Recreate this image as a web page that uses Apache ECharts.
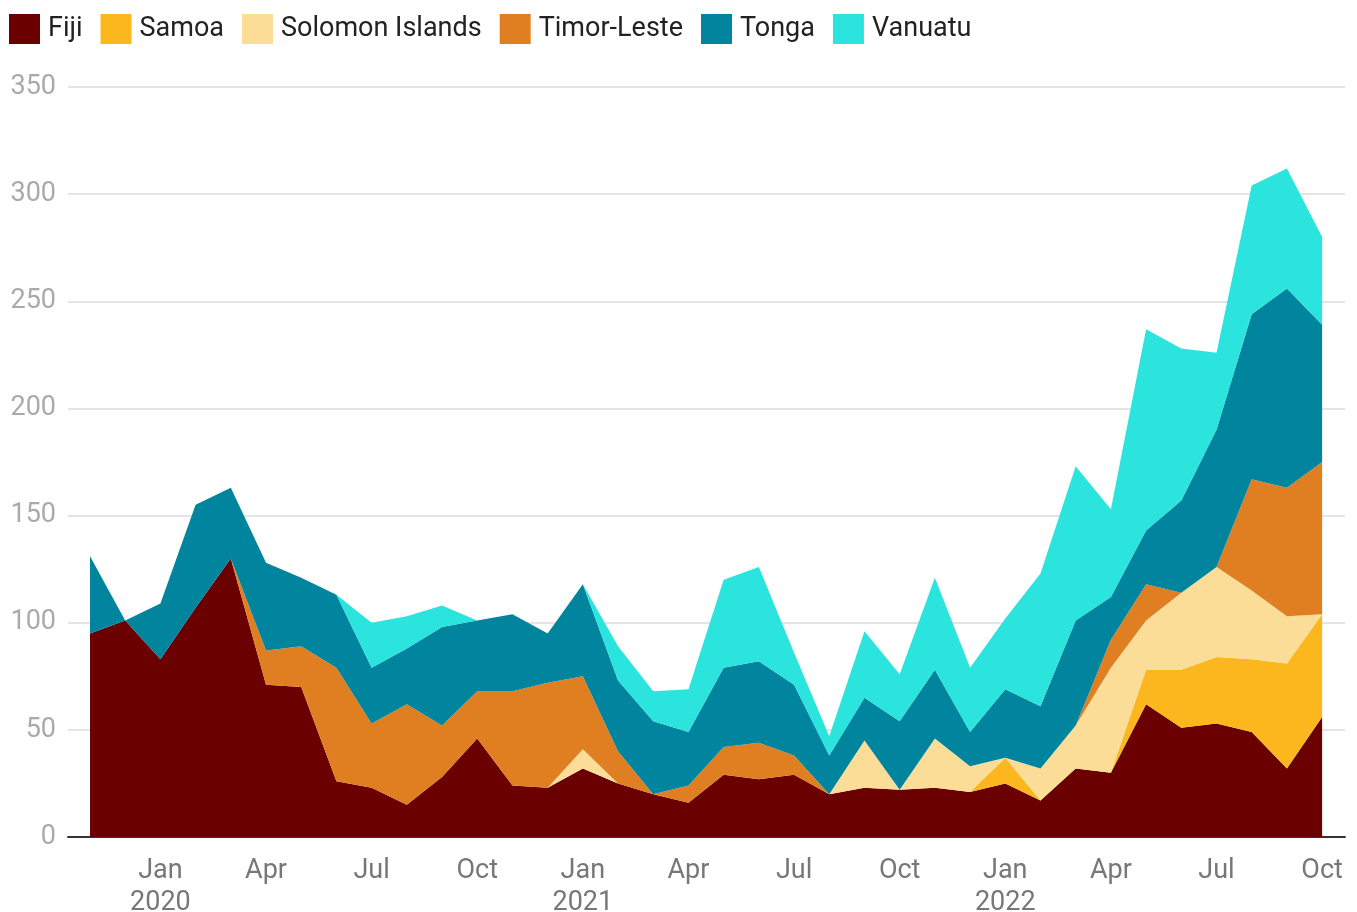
<!DOCTYPE html>
<html>
<head>
<meta charset="utf-8">
<script src="https://cdn.jsdelivr.net/npm/echarts@6/dist/echarts.min.js"></script>
<style>
  html, body { margin: 0; padding: 0; background: #fff; }
  #chart { width: 1357px; height: 912px; }
</style>
</head>
<body>
<div id="chart"></div>
<script>
// monthly, Nov 2019 - Oct 2022
const months = [
  "2019-11", "2019-12",
  "2020-01", "2020-02", "2020-03", "2020-04", "2020-05", "2020-06",
  "2020-07", "2020-08", "2020-09", "2020-10", "2020-11", "2020-12",
  "2021-01", "2021-02", "2021-03", "2021-04", "2021-05", "2021-06",
  "2021-07", "2021-08", "2021-09", "2021-10", "2021-11", "2021-12",
  "2022-01", "2022-02", "2022-03", "2022-04", "2022-05", "2022-06",
  "2022-07", "2022-08", "2022-09", "2022-10"
];
const fiji = [95, 101, 83, 107, 130, 71, 70, 26, 23, 15, 28, 46, 24, 23, 32, 25, 20, 16,
  29, 27, 29, 20, 23, 22, 23, 21, 25, 17, 32, 30, 62, 51, 53, 49, 32, 56];
const samoa = [0, 0, 0, 0, 0, 0, 0, 0, 0, 0, 0, 0, 0, 0, 0, 0, 0, 0,
  0, 0, 0, 0, 0, 0, 0, 0, 12, 0, 0, 0, 16, 27, 31, 34, 49, 48];
const solomon = [0, 0, 0, 0, 0, 0, 0, 0, 0, 0, 0, 0, 0, 0, 9, 0, 0, 0,
  0, 0, 0, 0, 22, 0, 23, 12, 0, 15, 20, 49, 23, 36, 42, 32, 22, 0];
const timorLeste = [0, 0, 0, 0, 0, 16, 19, 53, 30, 47, 24, 22, 44, 49, 34, 15, 0, 8,
  13, 17, 9, 0, 0, 0, 0, 0, 0, 0, 0, 13, 17, 0, 0, 52, 60, 71];
const tonga = [36, 0, 26, 48, 33, 41, 32, 34, 26, 26, 46, 33, 36, 23, 43, 33, 34, 25,
  37, 38, 33, 18, 20, 32, 32, 16, 32, 29, 49, 20, 25, 43, 64, 77, 93, 64];
const vanuatu = [0, 0, 0, 0, 0, 0, 0, 0, 21, 15, 10, 0, 0, 0, 0, 16, 14, 20,
  41, 44, 15, 9, 31, 22, 43, 30, 33, 62, 72, 41, 94, 71, 36, 60, 56, 41];

const monthNames = ["Jan", "Feb", "Mar", "Apr", "May", "Jun", "Jul", "Aug", "Sep", "Oct", "Nov", "Dec"];
// label positions (month index): Jan / Apr / Jul / Oct
const labelIdx = months.map((m, i) => i).filter(i => (+months[i].slice(5) - 1) % 3 === 0);

const seriesDefs = [
  { name: "Fiji", data: fiji, color: "#6b0000" },
  { name: "Samoa", data: samoa, color: "#fdb71e" },
  { name: "Solomon Islands", data: solomon, color: "#fcdd98" },
  { name: "Timor-Leste", data: timorLeste, color: "#df7f22" },
  { name: "Tonga", data: tonga, color: "#01849d" },
  { name: "Vanuatu", data: vanuatu, color: "#2ae4dd" }
];

const chart = echarts.init(document.getElementById("chart"));

const option = {
  animation: false,
  backgroundColor: "#fff",
  textStyle: { fontFamily: "Roboto" },
  color: seriesDefs.map(s => s.color),
  legend: {
    left: 9,
    top: 14,
    padding: 0,
    icon: "rect",
    itemWidth: 31,
    itemHeight: 30,
    itemGap: 18,
    textStyle: { fontSize: 27, color: "#222", fontFamily: "Roboto", padding: [0, 0, 0, 3] },
    data: seriesDefs.map(s => s.name)
  },
  grid: { left: 68, right: 12, top: 87, bottom: 75, outerBoundsMode: "none" },
  // month index axis, padded a little on both sides like the original
  xAxis: {
    type: "value",
    min: -0.625,
    max: 35.65,
    splitLine: { show: false },
    axisLine: { show: true, onZero: false, lineStyle: { color: "#333", width: 2 } },
    axisTick: { show: false },
    axisLabel: {
      customValues: labelIdx,
      color: "#777",
      fontSize: 27,
      lineHeight: 32,
      margin: 18,
      formatter: v => {
        const m = months[Math.round(v)];
        const mon = +m.slice(5);
        const name = monthNames[mon - 1];
        return mon === 1 ? name + "\n" + m.slice(0, 4) : name;
      }
    }
  },
  yAxis: {
    type: "value",
    min: 0,
    max: 350,
    interval: 50,
    axisLine: { show: false },
    axisTick: { show: false },
    axisLabel: { color: "#aaa", fontSize: 27, margin: 12 },
    splitLine: { lineStyle: { color: "#e4e4e4", width: 2 } }
  },
  // value first so the stack goes on y
  series: seriesDefs.map(s => ({
    name: s.name,
    type: "line",
    stack: "total",
    data: s.data.map((v, i) => [v, i]),
    encode: { x: 1, y: 0 },
    showSymbol: false,
    lineStyle: { width: 0 },
    areaStyle: { color: s.color, opacity: 1 },
    itemStyle: { color: s.color },
    emphasis: { disabled: true }
  }))
};

chart.setOption(option);
</script>
</body>
</html>
